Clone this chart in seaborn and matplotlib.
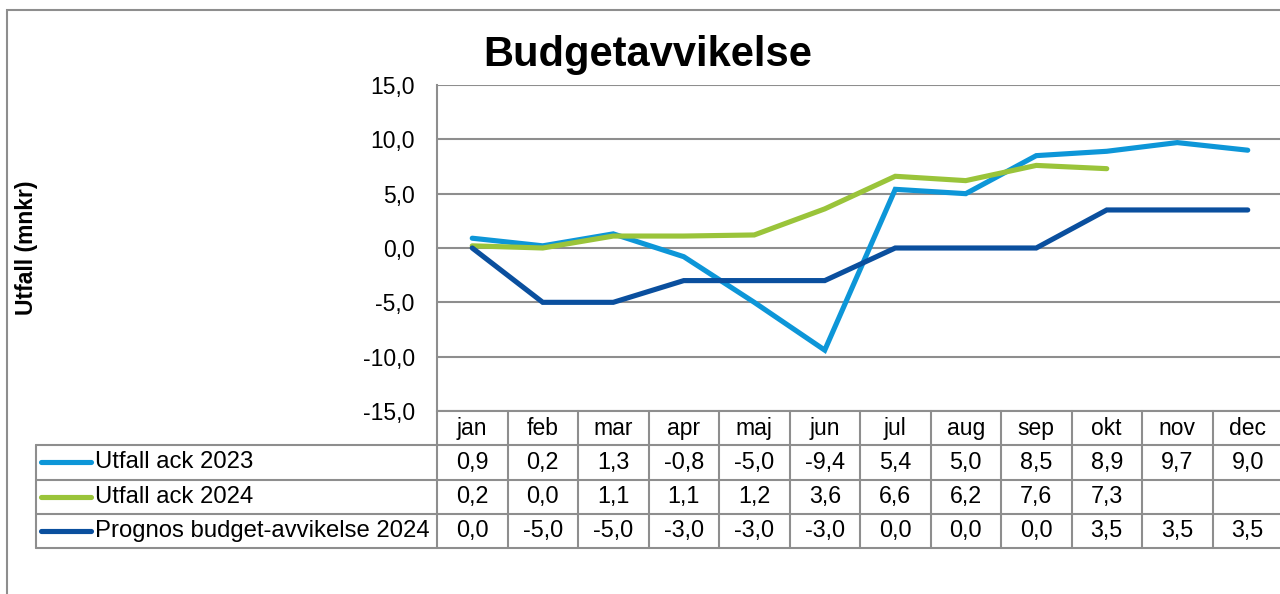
import numpy as np
import pandas as pd
import matplotlib
matplotlib.use("Agg")
import matplotlib.pyplot as plt
import seaborn as sns
from matplotlib.patches import Rectangle

# Data
months = ["jan", "feb", "mar", "apr", "maj", "jun", "jul", "aug", "sep", "okt", "nov", "dec"]
utfall_2023 = [0.9, 0.2, 1.3, -0.8, -5.0, -9.4, 5.4, 5.0, 8.5, 8.9, 9.7, 9.0]
utfall_2024 = [0.2, 0.0, 1.1, 1.1, 1.2, 3.6, 6.6, 6.2, 7.6, 7.3, None, None]
prognos_2024 = [0.0, -5.0, -5.0, -3.0, -3.0, -3.0, 0.0, 0.0, 0.0, 3.5, 3.5, 3.5]
series_names = ["Utfall ack 2023", "Utfall ack 2024", "Prognos budget-avvikelse 2024"]
series_colors = ["#0d96d8", "#9ac43a", "#0a4f9e"]
y_ticks = [-15, -10, -5, 0, 5, 10, 15]

rows = []
for name, vals in zip(series_names, [utfall_2023, utfall_2024, prognos_2024]):
    for i, v in enumerate(vals):
        rows.append({"idx": i, "month": months[i], "serie": name,
                     "value": np.nan if v is None else v})
df = pd.DataFrame(rows)

sns.set_theme(style="white")
plt.rcParams["font.family"] = ["Liberation Sans", "DejaVu Sans"]
plt.rcParams["text.color"] = "black"
plt.rcParams["ytick.color"] = "black"
plt.rcParams["ytick.labelcolor"] = "black"

W, H = 1280, 594
fig = plt.figure(figsize=(12.8, 5.94), dpi=100)
grid_c = "#8e8e8e"

def fx(px):
    return px / W

def fy(py):
    return 1 - py / H

# outer frame
fig.patches.append(Rectangle((fx(7), fy(700)), 1.2, fy(10) - fy(700), transform=fig.transFigure,
                             fill=False, edgecolor=grid_c, linewidth=1.5))

# main plot area
left, right, top, bottom = 437, 1283, 85, 411
ax = fig.add_axes([fx(left), fy(bottom), fx(right - left), fy(top) - fy(bottom)])

sns.lineplot(data=df, x="idx", y="value", hue="serie", palette=series_colors,
             hue_order=series_names, linewidth=3.7, legend=False, ax=ax,
             solid_capstyle="round", solid_joinstyle="miter")

ax.set_xlim(-0.5, 11.5)
ax.set_ylim(-15, 15)
ax.set_yticks(y_ticks)
ax.set_yticklabels([f"{t:.1f}".replace(".", ",") for t in y_ticks], fontsize=16.5, color="black")
ax.set_xticks([])
ax.set_xlabel("")
ax.set_ylabel("")
ax.tick_params(axis="y", length=0, pad=16)
for t in y_ticks:
    ax.axhline(t, color=grid_c, linewidth=1.5, zorder=0)
for s in ["top", "right", "bottom"]:
    ax.spines[s].set_visible(False)
ax.spines["left"].set_color(grid_c)
ax.spines["left"].set_linewidth(1.5)
for line in ax.lines[:3]:
    line.set_zorder(3)

fig.text(fx(648), fy(55), "Budgetavvikelse", fontsize=30, fontweight="bold",
         ha="center", va="center", color="black")
fig.text(fx(27), fy(248), "Utfall (mnkr)", fontsize=16.5, fontweight="bold",
         rotation=90, ha="center", va="center", color="black")

# data table
tleft, tbottom = 36, 548
tax = fig.add_axes([fx(tleft), fy(tbottom), fx(right - tleft), fy(bottom) - fy(tbottom)])
col_w = (right - left) / 12
x0 = -0.5 - (left - tleft) / col_w
tax.set_xlim(x0, 11.5)
tax.set_ylim(4, 0)
tax.axis("off")
lw = 1.5
# horizontal lines
tax.plot([-0.5, 11.5], [0, 0], color=grid_c, lw=lw, clip_on=False)
for r in [1, 2, 3, 4]:
    tax.plot([x0, 11.5], [r, r], color=grid_c, lw=lw, clip_on=False)
# vertical lines
tax.plot([x0, x0], [1, 4], color=grid_c, lw=lw, clip_on=False)
for i in range(13):
    tax.plot([i - 0.5, i - 0.5], [0, 4], color=grid_c, lw=lw, clip_on=False)

for i, m in enumerate(months):
    tax.text(i, 0.5, m, fontsize=16.5, ha="center", va="center")

for r, (name, vals, c) in enumerate(zip(series_names, [utfall_2023, utfall_2024, prognos_2024], series_colors)):
    yc = r + 1.5
    tax.plot([x0 + 5 / col_w, x0 + 55 / col_w], [yc, yc], color=c, lw=3.7,
             solid_capstyle="round", clip_on=False)
    tax.text(x0 + 59 / col_w, yc, name, fontsize=17.2, ha="left", va="center")
    for i, v in enumerate(vals):
        if v is None:
            continue
        tax.text(i, yc, f"{v:.1f}".replace(".", ","), fontsize=16.8, ha="center", va="center")

fig.savefig("out.png", dpi=100)
